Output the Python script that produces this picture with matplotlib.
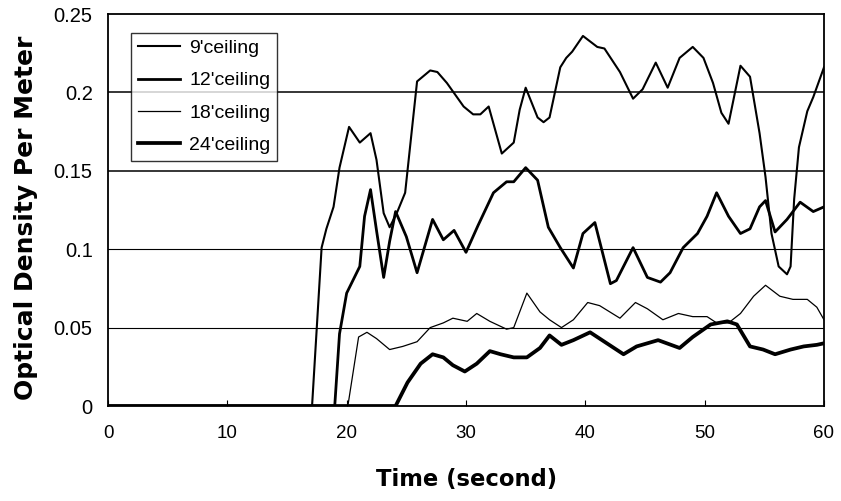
import matplotlib
matplotlib.use("Agg")
import matplotlib.pyplot as plt

plt.rcParams['font.family'] = ['Liberation Sans', 'DejaVu Sans']

# 9' ceiling
t9 = [0, 17.1, 17.9, 18.3, 18.9, 19.4, 20.2, 21.1, 22.0, 22.5, 23.1, 23.6, 24.2, 24.9, 25.9, 27.0, 27.6,
      28.4, 29.8, 30.6, 31.2, 31.9, 33.0, 34.0, 34.5, 35.0, 36.0, 36.5, 37.0, 37.9, 38.4, 38.9, 39.8,
      41.0, 41.6, 42.9, 44.0, 44.8, 45.9, 46.9, 47.9, 49.0, 49.9, 50.7, 51.4, 52.0, 53.0, 53.8, 54.6,
      55.1, 55.6, 56.2, 56.9, 57.2, 57.5, 57.9, 58.6, 59.1, 60.0]
v9 = [0, 0, 0.101, 0.113, 0.127, 0.152, 0.178, 0.168, 0.174, 0.157, 0.123, 0.114, 0.123, 0.136, 0.207, 0.214, 0.213,
      0.206, 0.191, 0.186, 0.186, 0.191, 0.161, 0.168, 0.189, 0.203, 0.184, 0.181, 0.184, 0.216, 0.222, 0.226, 0.236,
      0.229, 0.228, 0.213, 0.196, 0.202, 0.219, 0.203, 0.222, 0.229, 0.222, 0.206, 0.187, 0.180, 0.217, 0.210, 0.174,
      0.146, 0.110, 0.089, 0.084, 0.089, 0.132, 0.165, 0.188, 0.197, 0.216]

# 12' ceiling
t12 = [0, 19.0, 19.4, 20.0, 21.1, 21.5, 22.0, 22.5, 23.1, 23.6, 24.1, 25.0, 25.9, 27.2, 28.1, 29.0, 30.0,
       31.0, 32.3, 33.4, 34.0, 35.0, 36.0, 36.9, 37.9, 39.0, 39.8, 40.8, 42.1, 42.6, 44.0, 45.2, 46.3,
       47.1, 48.2, 49.4, 50.2, 51.0, 52.0, 53.0, 53.8, 54.6, 55.1, 55.9, 56.9, 58.0, 59.1, 60.0]
v12 = [0, 0, 0.046, 0.072, 0.089, 0.121, 0.138, 0.112, 0.082, 0.105, 0.124, 0.108, 0.085, 0.119, 0.106, 0.112, 0.098,
       0.115, 0.136, 0.143, 0.143, 0.152, 0.144, 0.114, 0.101, 0.088, 0.110, 0.117, 0.078, 0.080, 0.101, 0.082, 0.079,
       0.085, 0.101, 0.110, 0.121, 0.136, 0.121, 0.110, 0.113, 0.127, 0.131, 0.111, 0.119, 0.130, 0.124, 0.127]

# 18' ceiling
t18 = [0, 20.1, 21.0, 21.7, 22.5, 23.6, 24.7, 25.9, 27.0, 28.1, 28.9, 30.1, 30.9, 32.0, 33.4, 34.0, 35.1,
       36.2, 37.0, 38.0, 39.0, 40.2, 41.2, 42.9, 44.2, 45.2, 46.5, 47.8, 49.0, 50.2, 51.0, 52.0, 53.0,
       54.1, 55.1, 56.3, 57.4, 58.6, 59.4, 60.0]
v18 = [0, 0, 0.044, 0.047, 0.043, 0.036, 0.038, 0.041, 0.050, 0.053, 0.056, 0.054, 0.059, 0.054, 0.049, 0.050, 0.072,
       0.060, 0.055, 0.050, 0.055, 0.066, 0.064, 0.056, 0.066, 0.062, 0.055, 0.059, 0.057, 0.057, 0.053, 0.053, 0.059,
       0.070, 0.077, 0.070, 0.068, 0.068, 0.063, 0.055]

# 24' ceiling
t24 = [0, 24.1, 25.1, 26.2, 27.2, 28.1, 28.9, 29.9, 30.9, 32.0, 32.9, 34.0, 35.1, 36.2, 37.0, 38.0, 39.0,
       40.4, 41.8, 43.2, 44.3, 46.1, 47.9, 49.0, 50.5, 51.9, 52.7, 53.8, 54.9, 55.9, 57.2, 58.3, 59.4, 60.0]
v24 = [0, 0, 0.015, 0.027, 0.033, 0.031, 0.026, 0.022, 0.027, 0.035, 0.033, 0.031, 0.031, 0.037, 0.045, 0.039, 0.042,
       0.047, 0.040, 0.033, 0.038, 0.042, 0.037, 0.044, 0.052, 0.054, 0.052, 0.038, 0.036, 0.033, 0.036, 0.038, 0.039, 0.040]

labels = ["9'ceiling", "12'ceiling", "18'ceiling", "24'ceiling"]
xticks = [0, 10, 20, 30, 40, 50, 60]
yticks = [0, 0.05, 0.1, 0.15, 0.2, 0.25]
ytick_labels = ['0', '0.05', '0.1', '0.15', '0.2', '0.25']

fig = plt.figure(figsize=(8.41, 5.01), dpi=100)
ax = fig.add_axes([108/841, 1-406/501, (824-108)/841, (406-14)/501])

grid_widths = [0.8, 0.8, 1.1, 1.1]
for y, w in zip(yticks[1:-1], grid_widths):
    ax.axhline(y, color='black', lw=w, zorder=1)

ax.plot(t9, v9, color='black', lw=1.5, label=labels[0], zorder=3)
ax.plot(t12, v12, color='black', lw=2.0, label=labels[1], zorder=3)
ax.plot(t18, v18, color='black', lw=0.9, label=labels[2], zorder=3)
ax.plot(t24, v24, color='black', lw=2.7, label=labels[3], zorder=3)

ax.set_xlim(0, 60)
ax.set_ylim(0, 0.25)
ax.set_xticks(xticks)
ax.set_yticks(yticks)
ax.set_yticklabels(ytick_labels)
ax.tick_params(axis='x', direction='in', length=4, width=0.8, pad=14, labelsize=13.5)
ax.tick_params(axis='y', length=0, pad=11, labelsize=14.5)
for s in ax.spines.values():
    s.set_linewidth(1.3)
    s.set_color('black')

ax.set_xlabel('Time (second)', fontsize=16.3, fontweight='bold', family='DejaVu Sans')
ax.xaxis.set_label_coords(0.501, -0.158)
ax.set_ylabel('Optical Density Per Meter', fontsize=18, fontweight='bold', family='DejaVu Sans')
ax.yaxis.set_label_coords(-0.098, 0.48)

leg = ax.legend(loc='upper left', bbox_to_anchor=(0.032, 0.952), borderaxespad=0,
                frameon=True, fancybox=False, edgecolor='black', fontsize=14,
                handlelength=2.2, handletextpad=0.45, labelspacing=0.75, borderpad=0.35)
leg.get_frame().set_linewidth(1.0)

fig.savefig('out.png', dpi=100)
